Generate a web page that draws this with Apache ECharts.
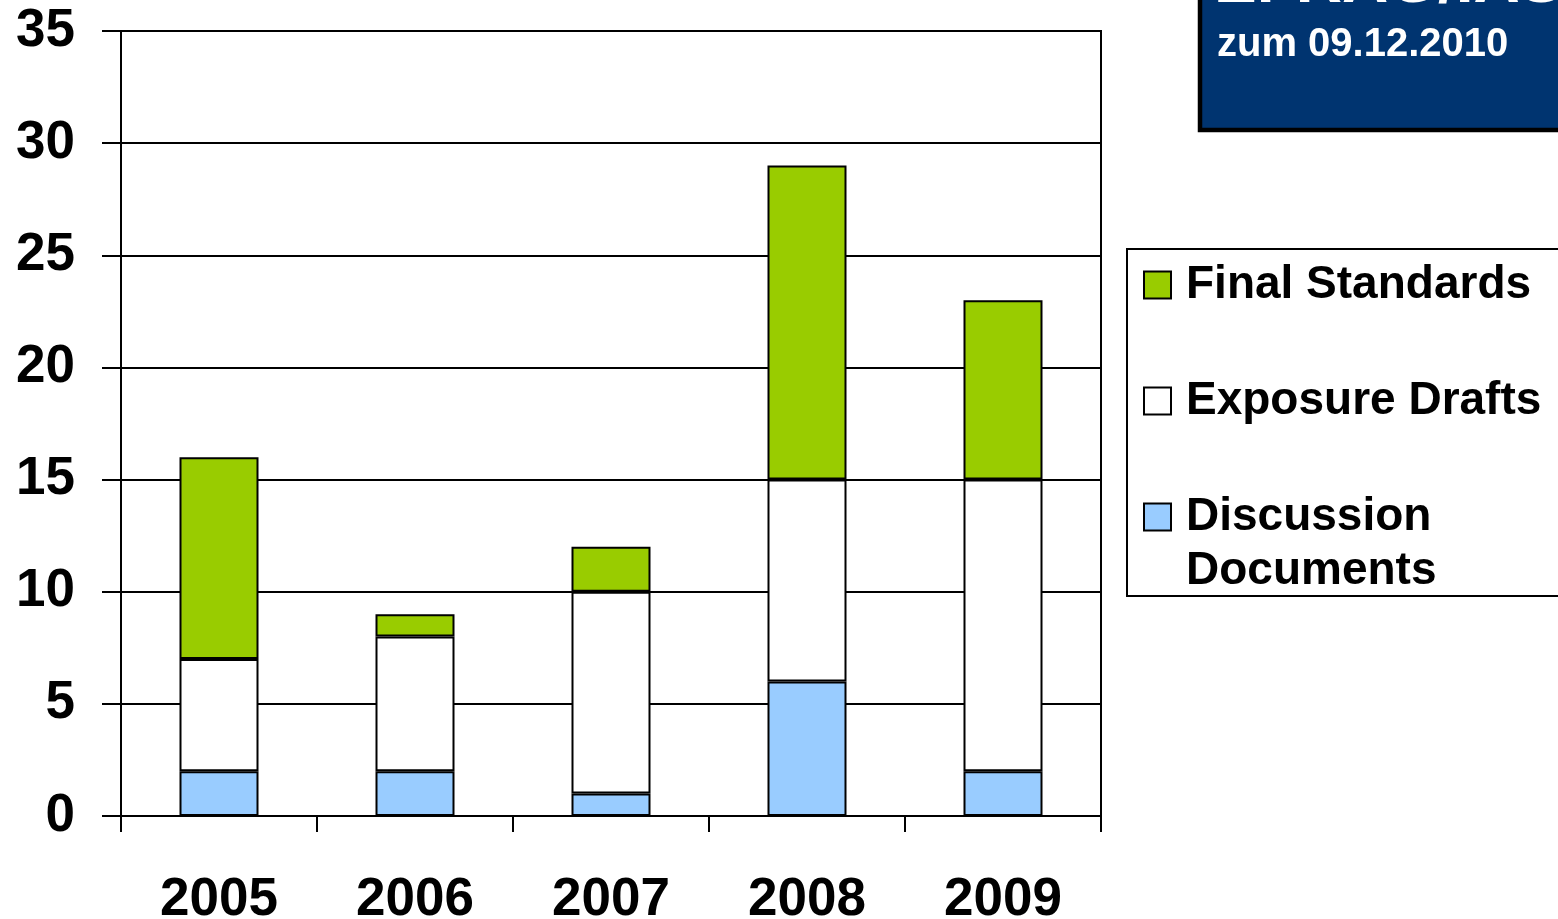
<!DOCTYPE html>
<html>
<head>
<meta charset="utf-8">
<script src="https://cdn.jsdelivr.net/npm/echarts@6/dist/echarts.min.js"></script>
<style>
html,body{margin:0;padding:0;background:#fff;}
#chart{width:1558px;height:919px;}
</style>
</head>
<body>
<div id="chart"></div>
<script>
const categories = ['2005', '2006', '2007', '2008', '2009'];
const discussionDocuments = [2, 2, 1, 6, 2];
const exposureDrafts = [5, 6, 9, 9, 13];
const finalStandards = [9, 1, 2, 14, 8];
const yTicks = [0, 5, 10, 15, 20, 25, 30, 35];

const FONT = '"Liberation Sans", Arial, sans-serif';
const chart = echarts.init(document.getElementById('chart'));

const barStyle = (color) => ({ color: color, borderColor: '#000', borderWidth: 2 });
const legendText = { color: '#000', fontFamily: FONT, fontWeight: 'bold', fontSize: 46, lineHeight: 54, padding: [0, 0, 0, 10] };
const legendBase = { left: 1143, orient: 'vertical', padding: 0, itemWidth: 27, itemHeight: 27, itemGap: 0, icon: 'rect', selectedMode: false };

chart.setOption({
  animation: false,
  backgroundColor: '#fff',
  grid: {
    left: 121, right: 457, top: 31, bottom: 103,
    outerBoundsMode: 'none', containLabel: false,
    show: true, borderColor: '#000', borderWidth: 2, backgroundColor: 'transparent'
  },
  xAxis: {
    type: 'category',
    data: categories,
    boundaryGap: true,
    axisLine: { lineStyle: { color: '#000', width: 2 } },
    axisTick: { show: true, length: 16, alignWithLabel: false, lineStyle: { color: '#000', width: 2 } },
    axisLabel: { color: '#000', fontFamily: FONT, fontWeight: 'bold', fontSize: 53, margin: 58 }
  },
  yAxis: {
    type: 'value',
    min: yTicks[0], max: yTicks[yTicks.length - 1], interval: 5,
    axisLine: { show: true, lineStyle: { color: '#000', width: 2 } },
    axisTick: { show: true, length: 19, lineStyle: { color: '#000', width: 2 } },
    splitLine: { show: true, lineStyle: { color: '#000', width: 2 } },
    axisLabel: { color: '#000', fontFamily: FONT, fontWeight: 'bold', fontSize: 53, margin: 46 }
  },
  legend: [
    Object.assign({}, legendBase, { data: ['Final Standards'], top: 258, textStyle: legendText }),
    Object.assign({}, legendBase, { data: ['Exposure Drafts'], top: 374, textStyle: legendText }),
    Object.assign({}, legendBase, {
      data: ['Discussion Documents'], top: 436, textStyle: legendText,
      formatter: function () { return '\u00a0\nDiscussion\nDocuments'; }
    })
  ],
  graphic: [
    {
      type: 'rect', z: -1,
      shape: { x: 1127, y: 249, width: 440, height: 347 },
      style: { fill: '#fff', stroke: '#000', lineWidth: 2 }
    },
    {
      type: 'rect', z: 10,
      shape: { x: 1200, y: -20, width: 400, height: 150 },
      style: { fill: '#003470', stroke: '#000', lineWidth: 4.5 }
    },
    {
      type: 'text', left: 1217, top: 25, z: 11,
      style: { text: 'zum 09.12.2010', fill: '#fff', font: 'bold 40px "Liberation Sans", Arial, sans-serif' }
    },
    {
      type: 'text', left: 1214, top: -48, z: 11,
      style: { text: 'EFRAG/IASB', fill: '#fff', font: 'bold 64px "Liberation Sans", Arial, sans-serif' }
    }
  ],
  series: [
    {
      name: 'Discussion Documents', type: 'bar', stack: 'total', data: discussionDocuments,
      barWidth: 79, itemStyle: barStyle('#99CCFF')
    },
    {
      name: 'Exposure Drafts', type: 'bar', stack: 'total', data: exposureDrafts,
      barWidth: 79, itemStyle: barStyle('#FFFFFF')
    },
    {
      name: 'Final Standards', type: 'bar', stack: 'total', data: finalStandards,
      barWidth: 79, itemStyle: barStyle('#99CC00')
    }
  ]
});
</script>
</body>
</html>
